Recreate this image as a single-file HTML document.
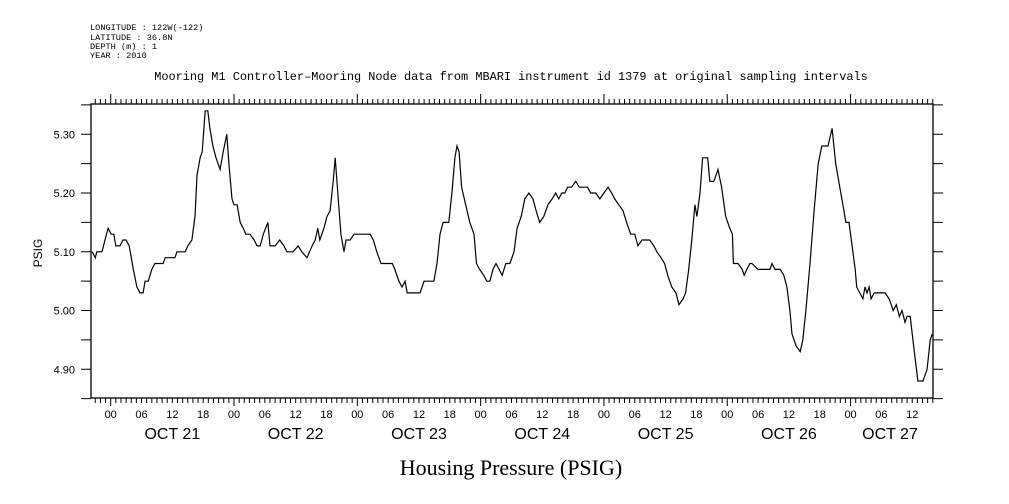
<!DOCTYPE html>
<html><head><meta charset="utf-8"><style>
body{margin:0;background:#fff}
svg{display:block;font-family:"Liberation Sans",sans-serif}
</style></head><body>
<svg id="c" width="1009" height="504" xmlns="http://www.w3.org/2000/svg">
<g font-size="8.6" fill="#000" font-family="Liberation Mono,monospace">
<text x="90" y="30">LONGITUDE : 122W(-122)</text>
<text x="90" y="40">LATITUDE : 36.8N</text>
<text x="90" y="49">DEPTH (m) : 1</text>
<text x="90" y="58">YEAR : 2010</text>
</g>
<text x="511" y="80" font-size="11.9" text-anchor="middle" font-family="Liberation Mono,monospace">Mooring M1 Controller–Mooring Node data from MBARI instrument id 1379 at original sampling intervals</text>
<text x="511" y="475" font-size="22" text-anchor="middle" font-family="Liberation Serif,serif">Housing Pressure (PSIG)</text>
<text x="0" y="0" font-size="12" text-anchor="middle" transform="translate(42,253) rotate(-90)">PSIG</text>
<rect x="91" y="104" width="842" height="294" fill="none" stroke="#000" stroke-width="1.3"/>
<g id="ax"></g>
<path id="line" fill="none" stroke="#000" stroke-width="1.2"/>
</svg>
<script>
const hours=[-3.6,-3.0,-2.7,-1.7,-1.1,-0.5,0.1,0.6,1.0,1.8,2.4,3.0,3.6,4.4,5.1,5.7,6.3,6.7,7.3,8.0,8.6,10.2,10.6,12.5,12.9,14.5,15.0,15.8,16.4,16.8,17.4,17.8,18.4,18.9,19.3,19.9,20.5,21.3,21.9,22.6,23.0,23.6,24.0,24.6,25.2,25.8,26.3,27.1,27.9,28.5,29.1,29.7,30.6,31.0,32.0,32.9,33.7,34.3,35.5,36.5,37.2,38.2,39.2,39.8,40.3,40.7,41.5,42.1,42.7,43.3,43.7,44.2,44.8,45.4,45.8,46.6,47.4,50.5,51.1,51.8,52.6,54.8,55.3,56.1,56.7,57.3,57.7,58.6,60.2,61.0,62.9,63.5,64.1,64.7,65.8,66.4,67.0,67.4,67.8,68.3,69.1,69.9,70.7,71.2,71.8,72.6,73.2,73.8,74.4,75.0,75.6,76.2,76.9,77.7,78.5,79.1,79.9,80.6,81.4,82.2,82.8,83.5,84.3,85.1,85.9,86.6,87.2,87.8,88.4,88.9,89.7,90.5,91.2,92.8,93.4,94.4,95.2,96.0,96.8,97.5,98.1,98.9,99.7,100.4,101.2,102.0,102.6,103.4,104.9,105.7,106.3,107.1,107.8,108.4,109.2,110.0,110.6,111.4,111.9,112.5,113.1,113.7,114.1,114.7,115.2,116.2,116.6,117.4,118.2,118.9,119.7,120.5,121.0,121.2,122.1,122.9,123.3,123.8,124.4,124.8,126.0,128.3,128.7,129.3,130.3,131.0,131.6,132.2,132.6,133.4,134.2,134.7,135.3,136.1,136.9,137.7,138.4,139.6,140.4,141.1,141.9,142.5,143.1,143.7,144.3,144.9,145.2,145.8,146.4,146.8,147.2,147.6,148.0,148.6,149.2,149.7,150.7,151.5,151.9,152.3,152.9,153.5,154.0,154.6,155.0,155.6,156.4,157.1,158.1,158.9,159.5,159.9];
const psig=[5.10,5.09,5.10,5.10,5.12,5.14,5.13,5.13,5.11,5.11,5.12,5.12,5.11,5.07,5.04,5.03,5.03,5.05,5.05,5.07,5.08,5.08,5.09,5.09,5.10,5.10,5.11,5.12,5.16,5.23,5.26,5.27,5.34,5.34,5.31,5.28,5.26,5.24,5.27,5.30,5.25,5.19,5.18,5.18,5.15,5.14,5.13,5.13,5.12,5.11,5.11,5.13,5.15,5.11,5.11,5.12,5.11,5.10,5.10,5.11,5.10,5.09,5.11,5.12,5.14,5.12,5.14,5.16,5.17,5.22,5.26,5.20,5.13,5.10,5.12,5.12,5.13,5.13,5.12,5.10,5.08,5.08,5.07,5.05,5.04,5.05,5.03,5.03,5.03,5.05,5.05,5.08,5.13,5.15,5.15,5.20,5.26,5.28,5.27,5.21,5.18,5.15,5.13,5.08,5.07,5.06,5.05,5.05,5.07,5.08,5.07,5.06,5.08,5.08,5.10,5.14,5.16,5.19,5.20,5.19,5.17,5.15,5.16,5.18,5.19,5.20,5.19,5.20,5.20,5.21,5.21,5.22,5.21,5.21,5.20,5.20,5.19,5.20,5.21,5.20,5.19,5.18,5.17,5.15,5.13,5.13,5.11,5.12,5.12,5.11,5.10,5.09,5.08,5.06,5.04,5.03,5.01,5.02,5.03,5.07,5.12,5.18,5.16,5.20,5.26,5.26,5.22,5.22,5.24,5.21,5.16,5.14,5.13,5.08,5.08,5.07,5.06,5.07,5.08,5.08,5.07,5.07,5.08,5.07,5.07,5.06,5.04,5.00,4.96,4.94,4.93,4.95,5.00,5.08,5.17,5.25,5.28,5.28,5.31,5.25,5.21,5.18,5.15,5.15,5.11,5.07,5.04,5.03,5.02,5.04,5.03,5.04,5.02,5.03,5.03,5.03,5.03,5.02,5.01,5.00,5.01,4.99,5.00,4.98,4.99,4.99,4.93,4.88,4.88,4.90,4.95,4.96];
const yTicks=["4.90","5.00","5.10","5.20","5.30"];
const hourLabels=["00","06","12","18"];
const dayLabels=["OCT 21","OCT 22","OCT 23","OCT 24","OCT 25","OCT 26","OCT 27"];
const L=91,R=933,T=104,B=398,X0=110.7,PH=5.138,Y30=134.3,PV=587.5;
const xs=h=>X0+h*PH, ys=v=>Y30+(5.30-v)*PV;
const NS="http://www.w3.org/2000/svg",ax=document.getElementById('ax');
function mk(t,a){const e=document.createElementNS(NS,t);for(const k in a)e.setAttribute(k,a[k]);ax.appendChild(e);return e;}
let d="";
for(let h=Math.ceil((L-X0)/PH);xs(h)<=R;h++){const x=xs(h);const major=((h%24)+24)%24===0;
 d+=`M${x} ${B}v${major?8:5}M${x} ${T}v-${major?10:5}`;}
yTicks.forEach(s=>{const v=parseFloat(s);const y=ys(v);d+=`M${L} ${y}h-10M${R} ${y}h10`;
 const y2=ys(v+0.05);if(y2>T)d+=`M${L} ${y2}h-10M${R} ${y2}h10`;
 const t=mk('text',{x:75,y:y+4,'font-size':11,'text-anchor':'end'});t.textContent=s;
 
 });
const y3=ys(4.85);d+=`M${L} ${y3}h-10M${R} ${y3}h10`;
const tk=mk('path',{d:d,stroke:'#000','stroke-width':1,fill:'none'});


for(let h=-18;xs(h)<=R;h+=6){if(xs(h)<L+5)continue;const t=mk('text',{x:xs(h),y:418,'font-size':11,'text-anchor':'middle'});
 t.textContent=hourLabels[((h/6)%4+4)%4];
 
 }
dayLabels.forEach((s,i)=>{const t=mk('text',{x:Math.min(xs(i*24+12),R-43),y:439,'font-size':16,'text-anchor':'middle'});t.textContent=s;
 
 });
document.getElementById('line').setAttribute('d',hours.map((h,i)=>(i?'L':'M')+xs(h).toFixed(1)+' '+ys(psig[i]).toFixed(1)).join(''));
</script>
</body></html>
